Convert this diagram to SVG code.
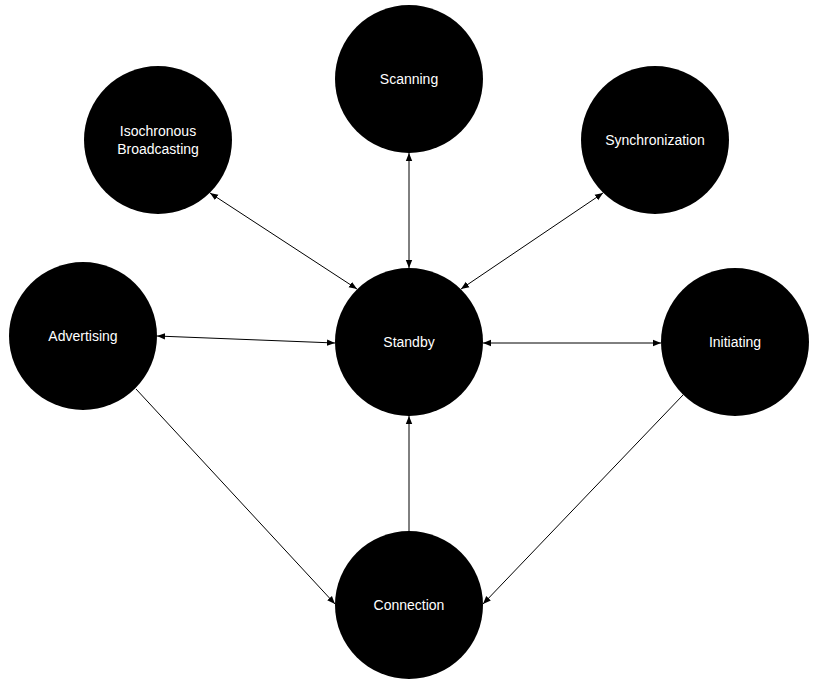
<svg xmlns="http://www.w3.org/2000/svg" width="819" height="684" viewBox="0 0 819 684">
<defs>
<marker id="ah" viewBox="0 0 10 10" refX="10" refY="5" markerWidth="8" markerHeight="8" markerUnits="userSpaceOnUse" orient="auto-start-reverse">
<path d="M0,1 L10,5 L0,9 Z" fill="#000"/>
</marker>
<style>
.n{fill:#000}
.t{fill:#fff;font-family:"Liberation Sans",Arial,sans-serif;font-size:14px;text-anchor:middle}
.e{stroke:#000;stroke-width:1;fill:none}
</style>
</defs>
<rect width="819" height="684" fill="#fff"/>
<g id="connectors">
<line class="e" x1="210" y1="193" x2="357" y2="289" marker-start="url(#ah)" marker-end="url(#ah)"/>
<line class="e" x1="409" y1="153" x2="409" y2="268" marker-start="url(#ah)" marker-end="url(#ah)"/>
<line class="e" x1="603" y1="193" x2="461" y2="289" marker-start="url(#ah)" marker-end="url(#ah)"/>
<line class="e" x1="157" y1="336" x2="335" y2="343" marker-start="url(#ah)" marker-end="url(#ah)"/>
<line class="e" x1="483" y1="343" x2="661" y2="343" marker-start="url(#ah)" marker-end="url(#ah)"/>
<line class="e" x1="136" y1="389" x2="335" y2="604" marker-end="url(#ah)"/>
<line class="e" x1="683" y1="395" x2="483" y2="604" marker-end="url(#ah)"/>
<line class="e" x1="409" y1="531" x2="409" y2="416" marker-end="url(#ah)"/>
</g>
<g id="scanning"><circle class="n" cx="409" cy="79" r="74"/><text class="t" x="409" y="84">Scanning</text></g>
<g id="isochronous"><circle class="n" cx="158" cy="140" r="74"/><text class="t" x="158" y="136">Isochronous</text><text class="t" x="158" y="154">Broadcasting</text></g>
<g id="synchronization"><circle class="n" cx="655" cy="140" r="74"/><text class="t" x="655" y="145">Synchronization</text></g>
<g id="advertising"><circle class="n" cx="83" cy="336" r="74"/><text class="t" x="83" y="341">Advertising</text></g>
<g id="standby"><circle class="n" cx="409" cy="342" r="74"/><text class="t" x="409" y="347">Standby</text></g>
<g id="initiating"><circle class="n" cx="735" cy="342" r="74"/><text class="t" x="735" y="347">Initiating</text></g>
<g id="connection"><circle class="n" cx="409" cy="605" r="74"/><text class="t" x="409" y="610">Connection</text></g>
</svg>
